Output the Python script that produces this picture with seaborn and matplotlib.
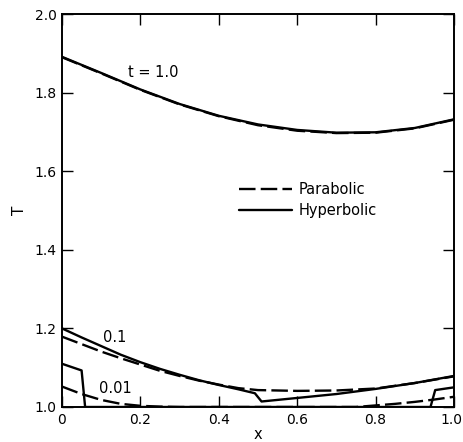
import matplotlib
matplotlib.use("Agg")
import matplotlib.pyplot as plt
import matplotlib.transforms as mtransforms
import seaborn as sns
import pandas as pd
from matplotlib.lines import Line2D

# ---- data: temperature profiles T(x) at three times, two conduction models ----
x_t1 = [0.0, 0.1, 0.2, 0.3, 0.4, 0.5, 0.6, 0.7, 0.8, 0.9, 1.0]
T_t1_hyp = [1.891, 1.850, 1.808, 1.771, 1.741, 1.719, 1.705, 1.698, 1.699, 1.710, 1.732]
T_t1_par = [1.890, 1.849, 1.807, 1.770, 1.740, 1.717, 1.703, 1.697, 1.698, 1.709, 1.731]

x_t01_hyp = [0.0, 0.05, 0.1, 0.15, 0.2, 0.25, 0.3, 0.35, 0.4, 0.45, 0.492,
             0.509, 0.6, 0.7, 0.8, 0.9, 1.0]
T_t01_hyp = [1.200, 1.177, 1.155, 1.133, 1.114, 1.097, 1.082, 1.068, 1.056, 1.045, 1.035,
             1.014, 1.023, 1.033, 1.046, 1.061, 1.079]
x_t01_par = [0.0, 0.05, 0.1, 0.15, 0.2, 0.25, 0.3, 0.35, 0.4, 0.45, 0.5,
             0.6, 0.7, 0.8, 0.9, 1.0]
T_t01_par = [1.179, 1.160, 1.141, 1.124, 1.108, 1.092, 1.079, 1.067, 1.057, 1.048, 1.043,
             1.041, 1.042, 1.047, 1.061, 1.078]

x_t001_hyp = [0.0, 0.05, 0.059, 0.3, 0.6, 0.94, 0.952, 1.0]
T_t001_hyp = [1.110, 1.093, 1.000, 1.000, 1.000, 1.000, 1.043, 1.050]
x_t001_par = [0.0, 0.05, 0.1, 0.15, 0.2, 0.25, 0.3, 0.5, 0.75, 0.8, 0.85, 0.9, 0.95, 1.0]
T_t001_par = [1.052, 1.033, 1.018, 1.008, 1.003, 1.001, 1.000, 1.000, 1.000, 1.004,
              1.008, 1.013, 1.019, 1.026]

x_ticks = [0.0, 0.2, 0.4, 0.6, 0.8, 1.0]
x_ticklabels = ["0", "0.2", "0.4", "0.6", "0.8", "1.0"]
y_ticks = [1.0, 1.2, 1.4, 1.6, 1.8, 2.0]
y_ticklabels = ["1.0", "1.2", "1.4", "1.6", "1.8", "2.0"]

curve_labels = [("t = 1.0", 0.232, 1.850), ("0.1", 0.135, 1.176), ("0.01", 0.135, 1.048)]

# ---- style ----
sns.set_style("ticks", {
    "xtick.direction": "in", "ytick.direction": "in",
    "xtick.top": True, "ytick.right": True,
    "text.color": "black", "axes.labelcolor": "black",
    "xtick.color": "black", "ytick.color": "black",
})
plt.rcParams["font.family"] = ["DejaVu Sans"]
plt.rcParams["font.size"] = 10

fig = plt.figure(figsize=(4.63, 4.42), dpi=100)
ax = fig.add_axes([0.1339, 0.0792, 0.8467, 0.8891])

DASH = (7.0, 2.2)
LW = 1.7

curves = [
    (x_t1, T_t1_par, "Parabolic"),
    (x_t1, T_t1_hyp, "Hyperbolic"),
    (x_t01_par, T_t01_par, "Parabolic"),
    (x_t01_hyp, T_t01_hyp, "Hyperbolic"),
    (x_t001_par, T_t001_par, "Parabolic"),
    (x_t001_hyp, T_t001_hyp, "Hyperbolic"),
]

for xs, ts, model in curves:
    df = pd.DataFrame({"x": xs, "T": ts})
    sns.lineplot(data=df, x="x", y="T", color="black", linewidth=LW,
                 estimator=None, sort=False, ax=ax)
    if model == "Parabolic":
        ax.lines[-1].set_dashes(DASH)

for txt, lx, ly in curve_labels:
    ax.text(lx, ly, txt, ha="center", va="center", fontsize=10.5, color="black")

# legend built from line handles
handles = [
    Line2D([], [], color="black", linewidth=LW, dashes=DASH),
    Line2D([], [], color="black", linewidth=LW),
]
ax.legend(handles, ["Parabolic", "Hyperbolic"], loc="center left",
          bbox_to_anchor=(0.452, 0.527), frameon=False, borderpad=0,
          borderaxespad=0, handlelength=3.6, handletextpad=0.5,
          labelspacing=0.45, fontsize=10.5)

ax.set_xlim(0, 1.0)
ax.set_ylim(1.0, 2.0)
ax.set_xticks(x_ticks)
ax.set_xticklabels(x_ticklabels)
ax.set_yticks(y_ticks)
ax.set_yticklabels(y_ticklabels)
ax.tick_params(axis="both", which="major", length=8, width=1.0, pad=4,
               labelsize=10, top=True, right=True, color="black")
ax.set_xlabel("x", fontsize=10.5, labelpad=0)
ax.set_ylabel("T", fontsize=11, labelpad=5)
for sp in ax.spines.values():
    sp.set_linewidth(1.4)
    sp.set_color("black")

# keep the last x tick label inside the figure edge
last = ax.get_xticklabels()[-1]
last.set_transform(last.get_transform() +
                   mtransforms.ScaledTranslation(-3 / 100, 0, fig.dpi_scale_trans))

fig.savefig("out.png", dpi=100)
